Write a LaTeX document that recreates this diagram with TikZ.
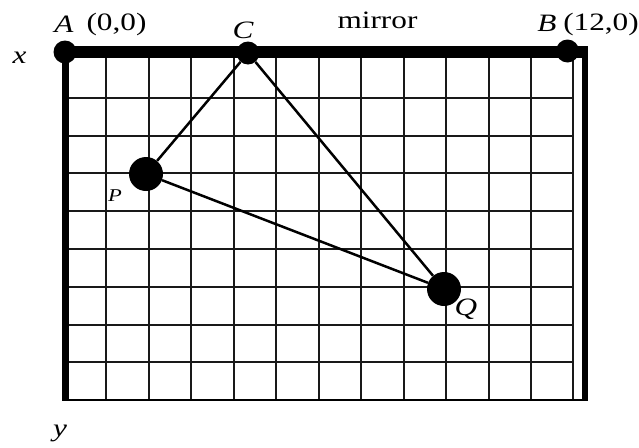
\documentclass[tikz,border=0pt]{standalone}
\usepackage{fontspec}
\setmainfont{Liberation Serif}
\begin{document}
\begin{tikzpicture}[x=1pt,y=-1pt,
  gridline/.style={line width=2pt,black!90},
  thickline/.style={line width=#1,black},
  dot/.style={circle,fill=black,inner sep=0pt,minimum size=#1},
  conn/.style={line width=2.5pt,black},
  lbl/.style={inner sep=0pt,anchor=base,xscale=1.25,font=\fontsize{25}{30}\selectfont},
  smalllbl/.style={inner sep=0pt,anchor=base,xscale=1.25,font=\fontsize{18}{22}\selectfont}]
\useasboundingbox (0,0) rectangle (639,447);
% grid
\foreach \k in {1,...,12} \draw[gridline] ({64+42.45*\k},52) -- ({64+42.45*\k},400);
\foreach \j in {1,...,8} \draw[gridline] (66,{59.9+37.8*\j}) -- (573.4,{59.9+37.8*\j});
\draw[line width=2.8pt] (62,400) -- (588,400);
% borders
\draw[thickline=7pt] (65.5,52) -- (65.5,401.3);
\draw[thickline=6pt] (585,46) -- (585,401.3);
\draw[thickline=12pt] (62,51.5) -- (588,51.5);
% points
\node[dot=23pt] (A) at (65,52) {};
\node[dot=23pt] (C) at (248,53) {};
\node[dot=23pt] (B) at (567.5,51) {};
\node[dot=34pt] (P) at (146,174) {};
\node[dot=34pt] (Q) at (444,289) {};
\draw[conn] (P) -- (C);
\draw[conn] (C) -- (Q);
\draw[conn] (P) -- (Q);
% labels
\node[lbl] (lA) at (64,32) {\itshape A};
\node[lbl] (lA0) at (116.5,30) {(0,0)};
\node[lbl] (lC) at (243,38) {\itshape C};
\node[lbl] (lm) at (377.5,28.5) {mirror};
\node[lbl] (lB) at (547,31) {\itshape B};
\node[lbl] (lB0) at (601,30) {(12,0)};
\node[lbl] (lx) at (19.5,63) {\itshape x};
\node[lbl] (ly) at (60,436) {\itshape y};
\node[smalllbl] (lP) at (115,201) {\itshape P};
\node[lbl] (lQ) at (466,315) {\itshape Q};
\end{tikzpicture}
\end{document}
